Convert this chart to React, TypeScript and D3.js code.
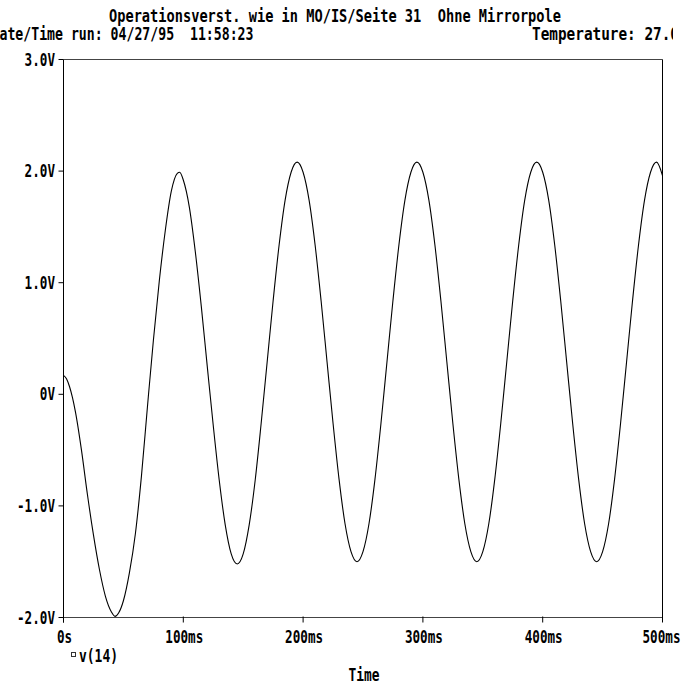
import React from "react";
import * as d3 from "d3";

// title lines
const titleText = "Operationsverst. wie in MO/IS/Seite 31  Ohne Mirrorpole";
const dateText = "Date/Time run: 04/27/95  11:58:23";
const tempText = "Temperature: 27.0";

// axis ticks
const yTicks = [-2, -1, 0, 1, 2, 3];
const yTickLabels = ["-2.0V", "-1.0V", "0V", "1.0V", "2.0V", "3.0V"];
const xTicks = [0, 100, 200, 300, 400, 500];
const xTickLabels = ["0s", "100ms", "200ms", "300ms", "400ms", "500ms"];

// v(14) trace (time in ms, volts)
const timeMs = [
  0, 2.5, 5, 7.5, 10, 15, 20, 25, 30, 35, 40, 43, 46, 50, 55, 60, 65, 70, 75, 80,
  85, 90, 95, 97, 100, 105, 110, 115, 120, 125, 130, 135, 140, 145, 150, 155, 160,
  165, 170, 175, 180, 185, 190, 195, 200, 205, 210, 215, 220, 225, 230, 235, 240,
  245, 250, 255, 260, 265, 270, 275, 280, 285, 290, 295, 300, 305, 310, 315, 320,
  325, 330, 335, 340, 345, 350, 355, 360, 365, 370, 375, 380, 385, 390, 395, 400,
  405, 410, 415, 420, 425, 430, 435, 440, 445, 450, 455, 460, 465, 470, 475, 480,
  485, 490, 495, 500,
];
const v14 = [
  0.17, 0.14, 0.07, -0.03, -0.16, -0.5, -0.9, -1.26, -1.57, -1.81, -1.95, -1.99,
  -1.96, -1.85, -1.6, -1.25, -0.74, -0.12, 0.48, 1.02, 1.47, 1.82, 1.98, 1.99, 1.92,
  1.68, 1.28, 0.79, 0.25, -0.28, -0.77, -1.17, -1.43, -1.52, -1.43, -1.17, -0.77,
  -0.26, 0.29, 0.84, 1.34, 1.74, 1.99, 2.08, 1.99, 1.74, 1.34, 0.84, 0.29, -0.26,
  -0.76, -1.16, -1.41, -1.5, -1.41, -1.16, -0.76, -0.26, 0.29, 0.84, 1.34, 1.74,
  1.99, 2.08, 1.99, 1.74, 1.34, 0.84, 0.29, -0.26, -0.76, -1.16, -1.41, -1.5, -1.41,
  -1.16, -0.76, -0.26, 0.29, 0.84, 1.34, 1.74, 1.99, 2.08, 1.99, 1.74, 1.34, 0.84,
  0.29, -0.26, -0.76, -1.16, -1.41, -1.5, -1.41, -1.16, -0.76, -0.26, 0.29, 0.84,
  1.34, 1.74, 1.99, 2.08, 1.96,
];

const W = 687;
const H = 689;
const left = 63.5, right = 662.5, top = 59.5, bottom = 617.5;
const font = "'DejaVu Sans Mono', monospace";

export default function App() {
  const x = d3.scaleLinear().domain([0, 500]).range([left, right]);
  const y = d3.scaleLinear().domain([-2, 3]).range([bottom, top]);

  const pts = timeMs.map((t, i) => [t, v14[i]] as [number, number]);
  const line = d3
    .line<[number, number]>()
    .x((d) => x(d[0]))
    .y((d) => y(d[1]))
    .curve(d3.curveMonotoneX);
  const path = line(pts) || "";

  const txt = {
    fontFamily: font,
    fontWeight: "bold" as const,
    fill: "#000",
    style: { whiteSpace: "pre" as const },
  };

  return (
    <svg
      width={W}
      height={H}
      viewBox={`0 0 ${W} ${H}`}
      style={{ position: "absolute", left: 0, top: 0, background: "#fff", display: "block" }}
    >
      <defs>
        <clipPath id="pageclip">
          <rect x={0} y={0} width={673} height={H} />
        </clipPath>
      </defs>

      {/* header */}
      <text x={109} y={22} fontSize={17} textLength={452} lengthAdjust="spacingAndGlyphs" {...txt}>
        {titleText}
      </text>
      <text x={-8.5} y={40} fontSize={17} textLength={262} lengthAdjust="spacingAndGlyphs" {...txt}>
        {dateText}
      </text>
      <g clipPath="url(#pageclip)">
        <text x={532} y={40} fontSize={17} textLength={147} lengthAdjust="spacingAndGlyphs" {...txt}>
          {tempText}
        </text>
      </g>

      {/* frame */}
      <g stroke="#000" strokeWidth={1} fill="none">
        <line x1={left} y1={top} x2={right} y2={top} stroke="#444" />
        <line x1={right} y1={top} x2={right} y2={bottom + 4} />
        <line x1={left} y1={bottom} x2={right} y2={bottom} stroke="#444" />
        <line x1={left} y1={top} x2={left} y2={bottom + 5} />
      </g>

      {/* y axis */}
      {yTicks.map((v, i) => (
        <g key={"y" + v}>
          <line x1={left - 5} x2={left} y1={y(v)} y2={y(v)} stroke="#000" />
          <text
            x={55}
            y={y(v) + 6}
            fontSize={17}
            textAnchor="end"
            textLength={yTickLabels[i].length * 7.6}
            lengthAdjust="spacingAndGlyphs"
            {...txt}
          >
            {yTickLabels[i]}
          </text>
        </g>
      ))}

      {/* x axis */}
      {xTicks.map((t, i) => (
        <g key={"x" + t}>
          <line x1={x(t)} x2={x(t)} y1={bottom - 1} y2={bottom + 5} stroke="#000" />
          <text
            x={i === xTicks.length - 1 ? x(t) - 1 : x(t) + 1}
            y={643}
            fontSize={17}
            textAnchor="middle"
            textLength={xTickLabels[i].length * 7.6}
            lengthAdjust="spacingAndGlyphs"
            {...txt}
          >
            {xTickLabels[i]}
          </text>
        </g>
      ))}

      {/* trace */}
      <path d={path} fill="none" stroke="#000" strokeWidth={1.1} />

      {/* legend */}
      <rect x={71.5} y={652.5} width={4} height={4} fill="none" stroke="#333" strokeWidth={1} />
      <text x={79} y={662} fontSize={17} textLength={39} lengthAdjust="spacingAndGlyphs" {...txt}>
        v(14)
      </text>

      {/* x title */}
      <text x={364} y={681} fontSize={17} textAnchor="middle" textLength={31} lengthAdjust="spacingAndGlyphs" {...txt}>
        Time
      </text>
    </svg>
  );
}
